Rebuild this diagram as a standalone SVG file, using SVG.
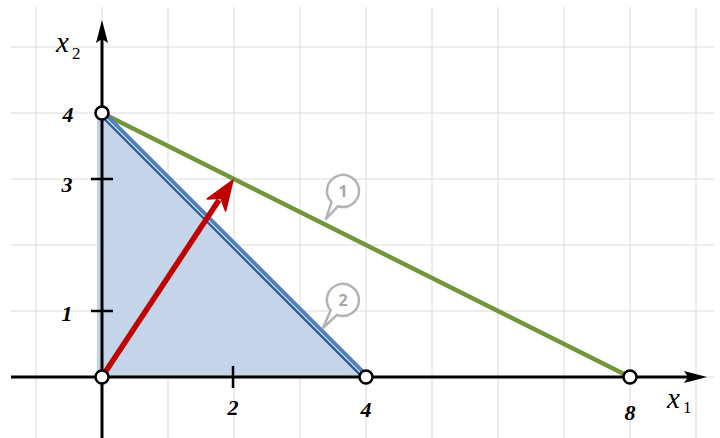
<svg xmlns="http://www.w3.org/2000/svg" width="720" height="438" viewBox="0 0 720 438">
<style>
.grid line{stroke:#dadada;stroke-width:1}
.axis{stroke:#000;stroke-width:3;fill:none}
.tick{stroke:#000;stroke-width:2.5}
.num{font-family:"Liberation Serif",serif;font-style:italic;font-weight:bold;font-size:22px;fill:#000;text-anchor:middle}
.var{font-family:"Liberation Serif",serif;font-style:italic;font-size:29px;fill:#000}
.sub{font-family:"Liberation Serif",serif;font-size:17px;fill:#000}
.pt{fill:#fff;stroke:#000;stroke-width:2.5}
.callout path{fill:#fff;stroke:#b3b3b3;stroke-width:2.5;stroke-linejoin:round}
.callout text{font-family:"Open Sans","Liberation Sans",sans-serif;font-weight:bold;font-size:16px;fill:#a6a6a6;text-anchor:middle}
</style>
<rect width="720" height="438" fill="#fff"/>
<g class="grid">
<line x1="36" y1="7" x2="36" y2="438"/><line x1="102" y1="7" x2="102" y2="438"/><line x1="168" y1="7" x2="168" y2="438"/><line x1="234" y1="7" x2="234" y2="438"/><line x1="300" y1="7" x2="300" y2="438"/><line x1="366" y1="7" x2="366" y2="438"/><line x1="432" y1="7" x2="432" y2="438"/><line x1="498" y1="7" x2="498" y2="438"/><line x1="564" y1="7" x2="564" y2="438"/><line x1="630" y1="7" x2="630" y2="438"/><line x1="696" y1="7" x2="696" y2="438"/>
<line x1="11" y1="47" x2="714" y2="47"/><line x1="11" y1="113" x2="714" y2="113"/><line x1="11" y1="179" x2="714" y2="179"/><line x1="11" y1="245" x2="714" y2="245"/><line x1="11" y1="311" x2="714" y2="311"/><line x1="11" y1="377" x2="714" y2="377"/>
</g>
<g id="region">
<polygon points="97,113 102,113 366,377 97,377" fill="#c4d4e9"/>
</g>
<g id="constraint1">
<line x1="102" y1="113" x2="630" y2="377" stroke="#77933c" stroke-width="4.5"/>
</g>
<g id="constraint2">
<line x1="103" y1="114" x2="365" y2="376" stroke="#4f81bd" stroke-width="7"/>
<line x1="101.2" y1="115.8" x2="361" y2="375.6" stroke="#2e5c96" stroke-width="2.2"/>
<line x1="102.4" y1="114.6" x2="363" y2="375.2" stroke="#dce6f2" stroke-width="1.1"/>
</g>
<g id="axes">
<line class="axis" x1="11" y1="377" x2="690" y2="377"/>
<path d="M707 377 L684 371 L688 377 L684 383 Z" fill="#000"/>
<line class="axis" x1="102" y1="438" x2="102" y2="36"/>
<path d="M102 20 L96 43 L102 39 L108 43 Z" fill="#000"/>
<line class="tick" x1="91" y1="179" x2="113" y2="179"/>
<line class="tick" x1="91" y1="311" x2="113" y2="311"/>
<line class="tick" x1="233" y1="366" x2="233" y2="388"/>
</g>
<g id="gradient">
<line x1="102" y1="377" x2="219" y2="200" stroke="#c00000" stroke-width="5.5"/>
<path d="M233 180 L207.2 198.9 L220.9 198.3 L225.6 211.1 Z" fill="#c00000" stroke="#c00000" stroke-width="1.5" stroke-linejoin="round"/>
</g>
<g id="points">
<circle class="pt" cx="102" cy="113" r="6.5"/>
<circle class="pt" cx="102" cy="377" r="6.5"/>
<circle class="pt" cx="366" cy="377" r="6.5"/>
<circle class="pt" cx="630" cy="377" r="6.5"/>
</g>
<g id="labels">
<text class="num" x="68" y="122">4</text>
<text class="num" x="67" y="192">3</text>
<text class="num" x="67" y="321">1</text>
<text class="num" x="233" y="415">2</text>
<text class="num" x="366" y="417">4</text>
<text class="num" x="630" y="420">8</text>
<text class="var" x="56" y="52">x</text><text class="sub" x="72" y="59">2</text>
<text class="var" x="667" y="408">x</text><text class="sub" x="683" y="413">1</text>
</g>
<g id="callout1" class="callout">
<path d="M338.1 206.2 L326 219 L331.5 202.1 A16 16 0 1 1 338.1 206.2 Z"/>
<text x="343" y="197">1</text>
</g>
<g id="callout2" class="callout">
<path d="M337 314.8 L323 328 L330.7 310.3 A16 16 0 1 1 337 314.8 Z"/>
<text x="343" y="306">2</text>
</g>
</svg>
